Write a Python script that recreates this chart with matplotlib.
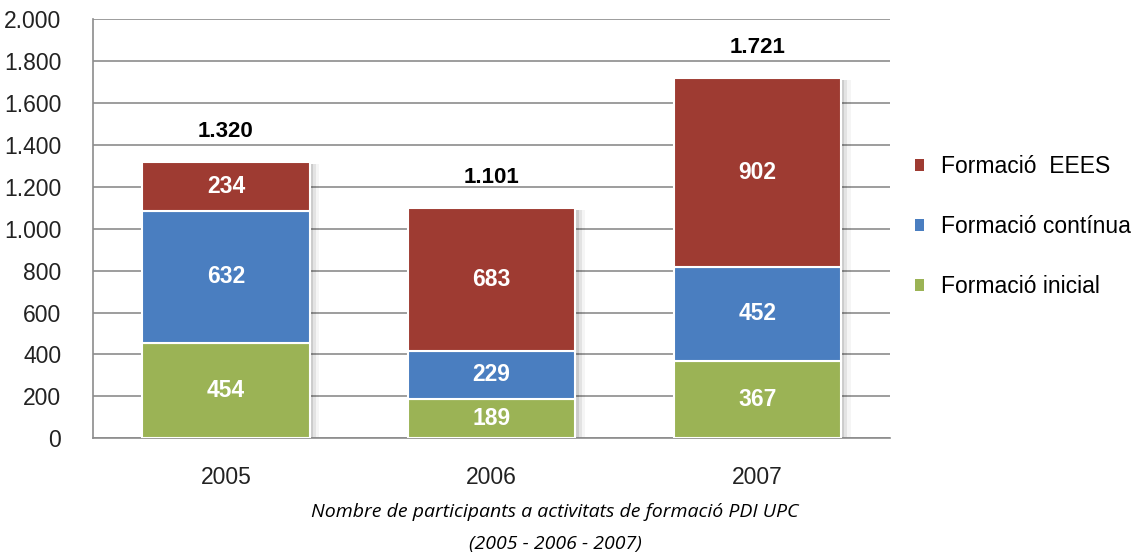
import numpy as np
import matplotlib.pyplot as plt
from matplotlib.patches import Patch

plt.rcParams['font.family'] = ['Liberation Sans', 'DejaVu Sans']

years = ['2005', '2006', '2007']
inicial = [454, 189, 367]
continua = [632, 229, 452]
eees = [234, 683, 902]
totals = ['1.320', '1.101', '1.721']

series = [
    ('Formació inicial', inicial, '#9BB355'),
    ('Formació contínua', continua, '#4A7EC0'),
    ('Formació  EEES', eees, '#9E3B32'),
]

fig = plt.figure(figsize=(11.42, 5.56), dpi=100)
ax = fig.add_axes([0.0815, 0.212, 0.698, 0.753])

x = np.arange(len(years))
w = 0.63
tot = np.array(inicial) + np.array(continua) + np.array(eees)

# soft shadow to the right of each stack
for k, a in enumerate([0.10, 0.07, 0.04]):
    ax.bar(x + 0.012 * (k + 1), tot - 10, w, color='black', alpha=a,
           linewidth=0, zorder=2)

bottom = np.zeros(len(years))
for name, vals, col in series:
    ax.bar(x, vals, w, bottom=bottom, color=col, edgecolor='white',
           linewidth=1.5, zorder=3)
    for xi, b, v in zip(x, bottom, vals):
        ax.text(xi, b + v / 2, str(v), ha='center', va='center',
                color='white', fontsize=16.5, fontweight='bold', zorder=4)
    bottom += np.array(vals)

for xi, t, lab in zip(x, tot, totals):
    ax.text(xi, t + 145, lab, ha='center', va='center', color='black',
            fontsize=16, fontweight='bold')

ax.set_xlim(-0.5, 2.5)
ax.set_ylim(0, 2000)
ax.set_yticks(range(0, 2001, 200))
ax.set_yticklabels(['0', '200', '400', '600', '800', '1.000', '1.200',
                    '1.400', '1.600', '1.800', '2.000'])
ax.set_xticks(x)
ax.set_xticklabels(years)
ax.tick_params(axis='both', length=0, labelsize=16.5, colors='#222222')
ax.tick_params(axis='x', pad=20)
ax.tick_params(axis='y', pad=23)
ax.grid(axis='y', color='#8c8c8c', linewidth=1.2, zorder=1)
ax.set_axisbelow(True)
for s in ['top', 'right']:
    ax.spines[s].set_visible(False)
for s in ['left', 'bottom']:
    ax.spines[s].set_color('#8c8c8c')
    ax.spines[s].set_linewidth(1.2)

handles = [Patch(facecolor=c, edgecolor='none', label=n) for n, _, c in series[::-1]]
fig.legend(handles=handles, loc='center left', bbox_to_anchor=(0.783, 0.592),
           frameon=False, fontsize=16.5, handlelength=0.4, handleheight=0.4,
           handletextpad=0.75, labelspacing=1.62)

fig.text(0.486, 0.080, 'Nombre de participants a activitats de formació PDI UPC',
         ha='center', va='center', style='italic', fontsize=14,
         family='Open Sans')
fig.text(0.486, 0.021, '(2005 - 2006 - 2007)', ha='center', va='center',
         style='italic', fontsize=14, family='Open Sans')

fig.savefig('out.png', dpi=100)
